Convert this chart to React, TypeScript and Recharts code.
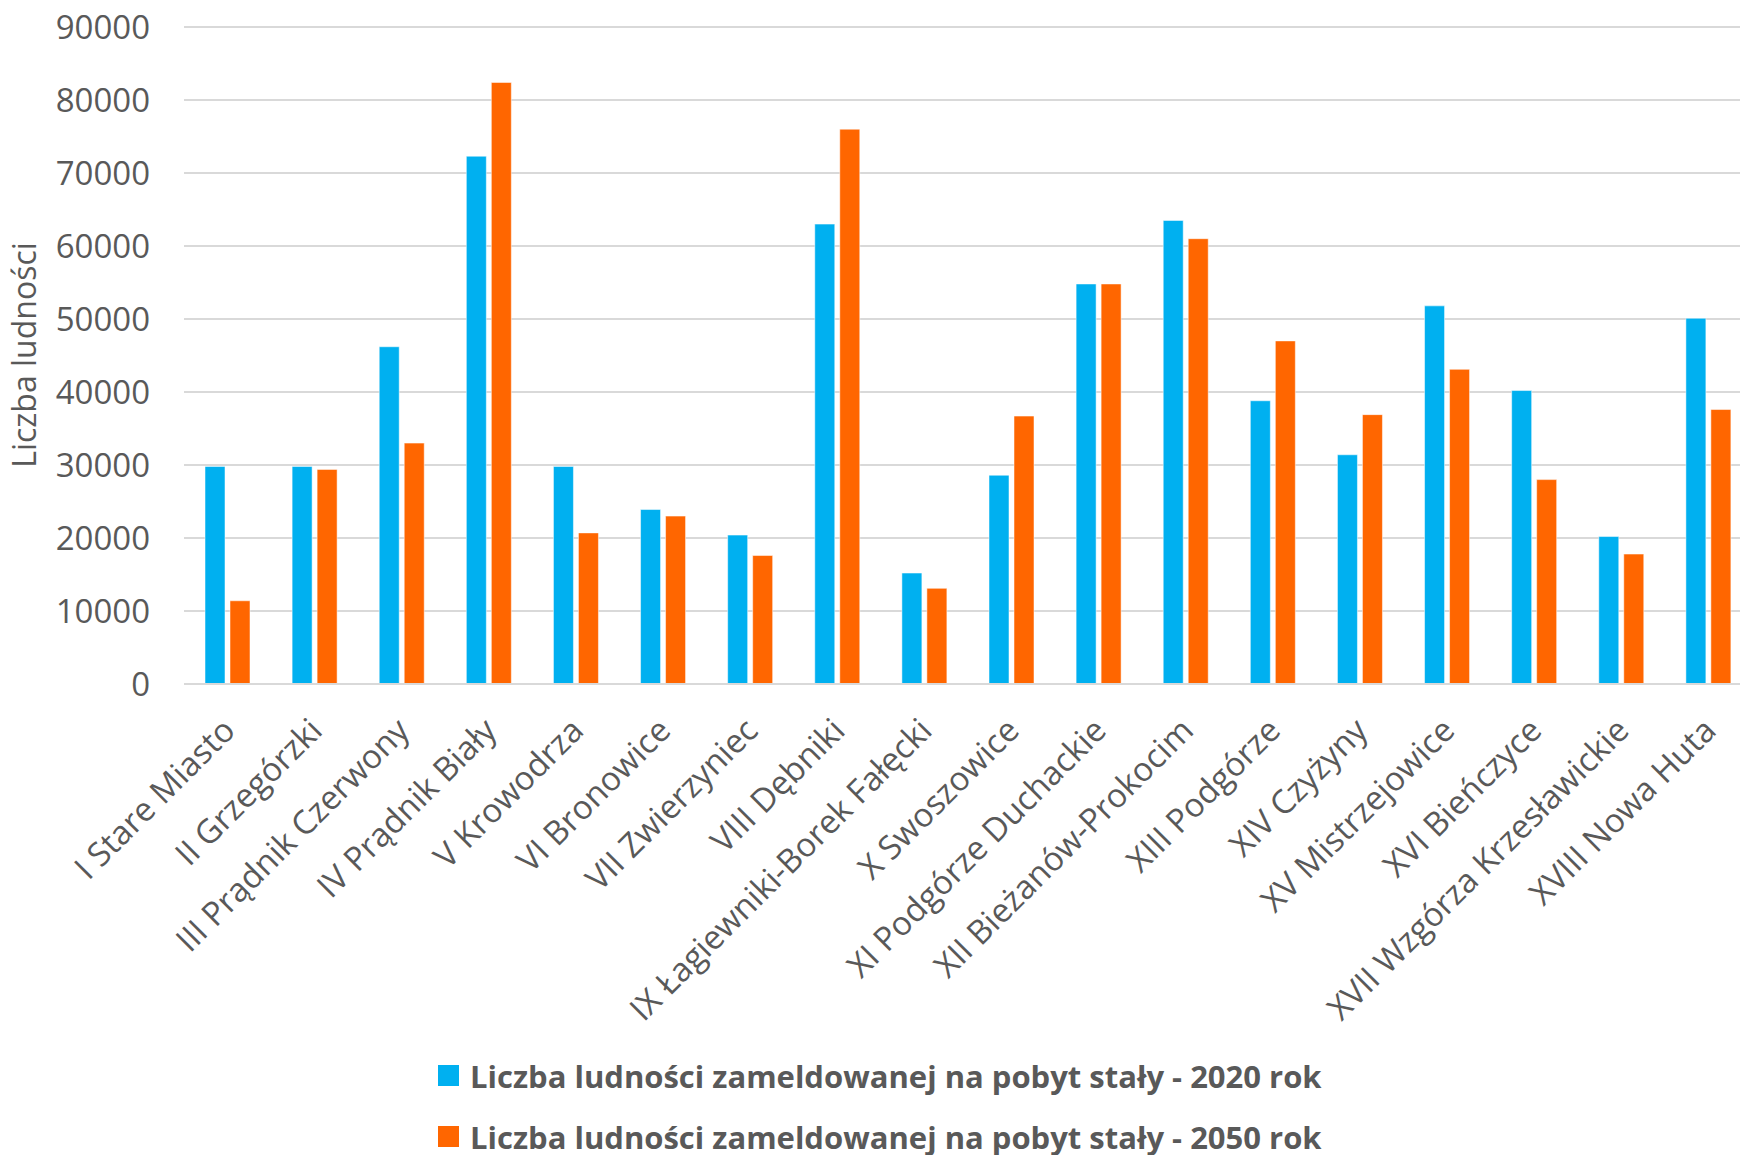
import React from 'react';
import { BarChart, Bar, XAxis, YAxis, CartesianGrid, Legend, Label } from 'recharts';

const categories = [
  'I Stare Miasto',
  'II Grzegórzki',
  'III Prądnik Czerwony',
  'IV Prądnik Biały',
  'V Krowodrza',
  'VI Bronowice',
  'VII Zwierzyniec',
  'VIII Dębniki',
  'IX Łagiewniki-Borek Fałęcki',
  'X Swoszowice',
  'XI Podgórze Duchackie',
  'XII Bieżanów-Prokocim',
  'XIII Podgórze',
  'XIV Czyżyny',
  'XV Mistrzejowice',
  'XVI Bieńczyce',
  'XVII Wzgórza Krzesławickie',
  'XVIII Nowa Huta',
];

const values2020 = [29800, 29800, 46200, 72300, 29800, 23900, 20400, 63000, 15200, 28600, 54800, 63500, 38800, 31400, 51800, 40200, 20200, 50100];
const values2050 = [11400, 29400, 33000, 82400, 20700, 23000, 17600, 76000, 13100, 36700, 54800, 61000, 47000, 36900, 43100, 28000, 17800, 37600];

const yTicks = [0, 10000, 20000, 30000, 40000, 50000, 60000, 70000, 80000, 90000];

const series = [
  { key: 'v2020', name: 'Liczba ludności zameldowanej na pobyt stały - 2020 rok', color: '#00B0F0' },
  { key: 'v2050', name: 'Liczba ludności zameldowanej na pobyt stały - 2050 rok', color: '#FF6600' },
];

const data = categories.map((c, i) => ({ name: c, v2020: values2020[i], v2050: values2050[i] }));

const FONT = '"Open Sans", sans-serif';
const TEXT = '#595959';

const XTick = (props: any) => {
  const { x, y, payload } = props;
  return (
    <text
      transform={`translate(${x - 8}, ${y + 31}) rotate(-45)`}
      textAnchor="end"
      dy="0.75em"
      fontFamily={FONT}
      fontSize={33}
      fill={TEXT}
    >
      {payload.value}
    </text>
  );
};

const LegendContent = () => (
  <div style={{ fontFamily: FONT, fontWeight: 700, fontSize: 31, color: TEXT }}>
    {series.map((s) => (
      <div key={s.key} style={{ height: 61, display: 'flex', alignItems: 'center', whiteSpace: 'nowrap' }}>
        <span style={{ display: 'inline-block', width: 21, height: 21, background: s.color, marginRight: 11 }} />
        <span>{s.name}</span>
      </div>
    ))}
  </div>
);

export default function App() {
  return (
    <div style={{ position: 'absolute', left: 0, top: 0, width: 1740, height: 1155, overflow: 'hidden', background: '#fff' }}>
      <BarChart
        width={1760}
        height={1155}
        data={data}
        margin={{ top: 27, right: 8, bottom: 0, left: 0 }}
        barSize={20}
        barGap={5}
      >
        <CartesianGrid vertical={false} stroke="#d9d9d9" strokeWidth={2} />
        <XAxis
          dataKey="name"
          interval={0}
          height={471}
          tickLine={false}
          tickSize={0}
          tickMargin={0}
          axisLine={{ stroke: '#d9d9d9', strokeWidth: 2 }}
          tick={<XTick />}
        />
        <YAxis
          width={184}
          domain={[0, 90000]}
          ticks={yTicks}
          interval={0}
          axisLine={false}
          tickLine={false}
          tickSize={0}
          tickMargin={34}
          tick={{ fontFamily: FONT, fontSize: 33, fill: TEXT }}
        >
          <Label
            content={() => (
              <text
                transform={`translate(36, 355) rotate(-90)`}
                textAnchor="middle"
                fontFamily={FONT}
                fontSize={32}
                fill={TEXT}
              >
                Liczba ludności
              </text>
            )}
          />
        </YAxis>
        <Legend
          layout="vertical"
          verticalAlign="middle"
          align="center"
          content={<LegendContent />}
          wrapperStyle={{ top: 1045, left: 438, width: 'auto', height: 'auto' }}
        />
        {series.map((s) => (
          <Bar
            key={s.key}
            dataKey={s.key}
            name={s.name}
            fill={s.color}
            stroke="#ffffff"
            strokeOpacity={0.5}
            strokeWidth={1}
            isAnimationActive={false}
          />
        ))}
      </BarChart>
    </div>
  );
}
